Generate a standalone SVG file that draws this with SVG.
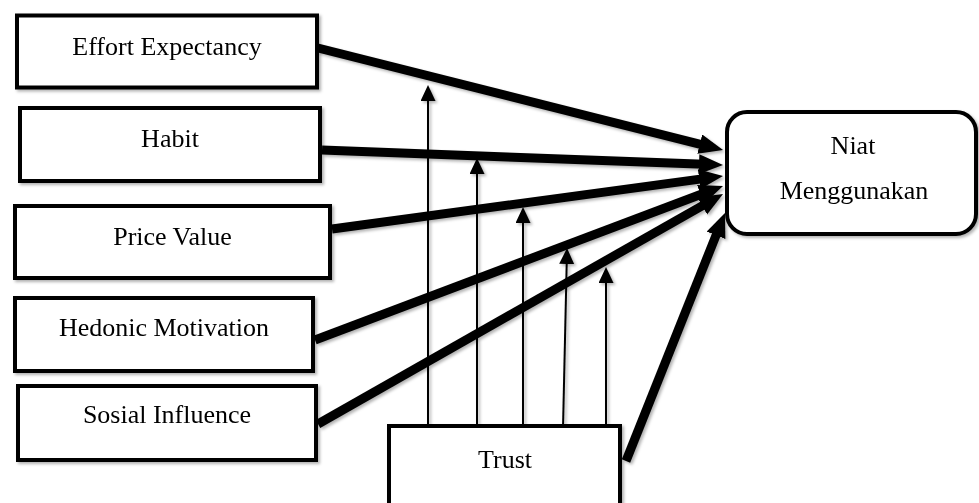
<svg xmlns="http://www.w3.org/2000/svg" width="979" height="503" viewBox="0 0 979 503">
<style>
.box{fill:#fff;stroke:#000;stroke-width:4;}
.lbl{font-family:"Liberation Serif","Times New Roman",serif;font-size:26px;fill:#000;text-anchor:middle;}
.thick{stroke:#000;stroke-width:9;fill:none;marker-end:url(#big);}
.thin{stroke:#000;stroke-width:2;fill:none;marker-end:url(#small);}
</style>
<defs>
<filter id="sh" x="-10%" y="-10%" width="120%" height="130%">
<feDropShadow dx="2" dy="2" stdDeviation="1.5" flood-color="#000" flood-opacity="0.3"/>
</filter>
<marker id="big" markerUnits="userSpaceOnUse" markerWidth="26" markerHeight="22" refX="12" refY="10" orient="auto">
<path d="M0,0 L24,10 L0,20 z" fill="#000"/>
</marker>
<marker id="small" markerUnits="userSpaceOnUse" markerWidth="18" markerHeight="16" refX="14" refY="7.5" orient="auto">
<path d="M0,0 L16,7.5 L0,15 z" fill="#000"/>
</marker>
</defs>
<rect width="979" height="503" fill="#fff"/>
<g id="connectors" filter="url(#sh)">
<line class="thick" x1="318" y1="48" x2="711.4" y2="147.1"/>
<line class="thick" x1="322" y1="150" x2="711" y2="164.6"/>
<line class="thick" x1="332" y1="229" x2="711.1" y2="177.6"/>
<line class="thick" x1="315" y1="340" x2="711.8" y2="190.2"/>
<line class="thick" x1="318" y1="424" x2="712.6" y2="199.9"/>
<line class="thick" x1="626" y1="461" x2="720.5" y2="224.1"/>
<line class="thin" x1="428" y1="424" x2="428" y2="87"/>
<line class="thin" x1="477" y1="424" x2="477" y2="160"/>
<line class="thin" x1="523" y1="424" x2="523" y2="209"/>
<line class="thin" x1="563" y1="428" x2="567" y2="250"/>
<line class="thin" x1="606" y1="424" x2="606" y2="269"/>
</g>
<g id="effort" filter="url(#sh)">
<rect class="box" x="17" y="15.5" width="300" height="72"/>
<text class="lbl" x="167" y="55">Effort Expectancy</text>
</g>
<g id="habit" filter="url(#sh)">
<rect class="box" x="20" y="108" width="300" height="73"/>
<text class="lbl" x="170" y="147">Habit</text>
</g>
<g id="price" filter="url(#sh)">
<rect class="box" x="15" y="206" width="315" height="72"/>
<text class="lbl" x="172.5" y="245">Price Value</text>
</g>
<g id="hedonic" filter="url(#sh)">
<rect class="box" x="15" y="298" width="298" height="73"/>
<text class="lbl" x="164" y="336">Hedonic Motivation</text>
</g>
<g id="sosial" filter="url(#sh)">
<rect class="box" x="18" y="386" width="298" height="74"/>
<text class="lbl" x="167" y="423">Sosial Influence</text>
</g>
<g id="trust" filter="url(#sh)">
<rect class="box" x="389" y="426" width="231" height="90"/>
<text class="lbl" x="505" y="468">Trust</text>
</g>
<g id="niat" filter="url(#sh)">
<rect class="box" x="727" y="112" width="249" height="122" rx="20" ry="20"/>
<text class="lbl" x="853" y="154">Niat</text>
<text class="lbl" x="854" y="199">Menggunakan</text>
</g>
</svg>
